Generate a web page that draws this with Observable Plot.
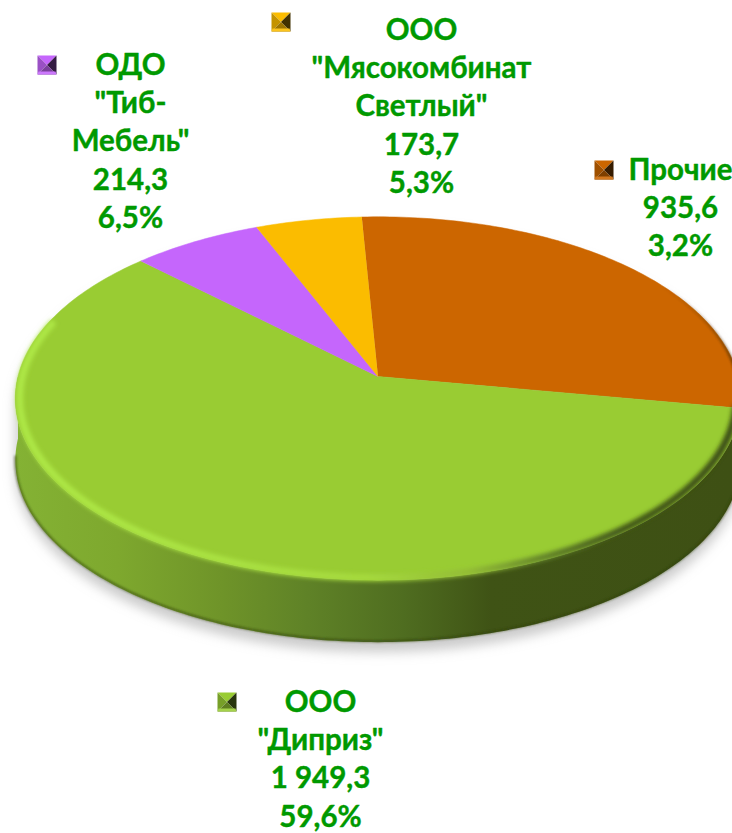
<!DOCTYPE html>
<html>
<head>
<meta charset="utf-8">
<script src="https://cdn.jsdelivr.net/npm/d3@7"></script>
<script src="https://cdn.jsdelivr.net/npm/@observablehq/plot@0.6"></script>
<style>html,body{margin:0;padding:0;background:#fff}svg{display:block}</style>
</head>
<body>
<div id="chart"></div>
<script>
// Data, clockwise from the top of the pie
const names = ["Прочие", "ООО\n\"Диприз\"", "ОДО\n\"Тиб-\nМебель\"", "ООО\n\"Мясокомбинат\nСветлый\""];
const values = [935.6, 1949.3, 214.3, 173.7];
const valueLabels = ["935,6", "1 949,3", "214,3", "173,7"];
const percentLabels = ["3,2%", "59,6%", "6,5%", "5,3%"];

// Styles and layout
const sliceColors = ["#cc6600", "#99cc33", "#c566fc", "#fbbc00"];
const labelX = [680, 320, 130, 421];
const labelY = [152, 684, 47, 12];
const keyX = [594, 217, 37, 271];
const keyY = [160, 692, 55, 12];
const keySize = 19;

const rad = Math.PI / 180;
const cx = 377.5, cy = 376, rx = 360, ry = 179, tilt = 0.121, depth = 62;
const startDeg = -2.9;

const project = (deg, dy = 0, s = 1) => {
  const t = deg * rad, w = 1 + tilt * Math.cos(t);
  return {x: cx + s * rx * Math.sin(t) / w, y: cy - s * ry * Math.cos(t) / w + dy};
};
const arc = (a, b, dy = 0, s = 1) => {
  const n = Math.max(2, Math.ceil(Math.abs(b - a)));
  return d3.range(n + 1).map(i => project(a + (b - a) * i / n, dy, s));
};

const arcs = d3.pie().sort(null).startAngle(startDeg * rad).endAngle((360 + startDeg) * rad)(values);
const deg = arcs.map(d => [d.startAngle / rad, d.endAngle / rad]);

const slices = arcs.flatMap((d, i) =>
  [{x: cx, y: cy}, ...arc(deg[i][0], deg[i][1])].map(p => ({...p, i})));

const green = deg[1];
const wallPts = [...arc(Math.max(green[0], 90), Math.min(green[1], 270), depth),
                 ...arc(Math.min(green[1], 270), Math.max(green[0], 90))];
const wallEdge = arc(Math.max(green[0], 96), Math.min(green[1], 264), depth);
const rimPts = arc(green[0], 288, 0, 0.988);
const orangeRim = arc(45, deg[0][1], 0, 0.998);

const silhouette = [...arc(96, 264, depth), ...arc(264, 456)];

const facets = keyX.flatMap((kx, i) => {
  const c = sliceColors[i], s = keySize, ky = keyY[i];
  const shade = t => d3.interpolateRgb(c, "#000")(t);
  const mx = kx + s / 2, my = ky + s / 2;
  const polys = [
    [c, [[kx, ky], [kx + s, ky], [mx, my]]],
    [shade(0.22), [[kx, ky], [mx, my], [kx, ky + s]]],
    [shade(0.74), [[kx + s, ky], [kx + s, ky + s], [mx, my]]],
    [shade(0.38), [[kx, ky + s], [mx, my], [kx + s, ky + s]]],
    [d3.interpolateRgb(c, "#fff")(0.12), [[kx + 1, ky + s - 3], [kx + s - 1, ky + s - 3], [kx + s, ky + s], [kx, ky + s]]]
  ];
  return polys.flatMap((p, j) => p[1].map(q => ({x: q[0], y: q[1], z: i + "-" + j, color: p[0]})));
});

const labels = names.map((n, i) => ({
  x: labelX[i], y: labelY[i],
  text: n + "\n" + valueLabels[i] + "\n" + percentLabels[i]
}));

const blur = id => ({render(index, scales, vals, dims, ctx, next) {
  const g = next(index, scales, vals, dims, ctx);
  g.setAttribute("filter", `url(#${id})`);
  return g;
}});

const defs = () => {
  const d = d3.create("svg:defs");
  const grad = (id, stops, x1 = 0, x2 = 732, y1 = 0, y2 = 0) => {
    const g = d.append("linearGradient").attr("id", id).attr("gradientUnits", "userSpaceOnUse")
      .attr("x1", x1).attr("x2", x2).attr("y1", y1).attr("y2", y2);
    stops.forEach(([o, c, a = 1]) => g.append("stop").attr("offset", o).attr("stop-color", c).attr("stop-opacity", a));
  };
  grad("wallGrad", [[0.02, "#84b234"], [0.16, "#7ea82e"], [0.3, "#6f9429"], [0.42, "#5f8227"], [0.55, "#4f6d20"], [0.67, "#3f5315"], [1, "#3e5014"]]);
  grad("rimGrad", [[0.02, "#aee846"], [0.3, "#aae243", 1], [0.5, "#a6da3e"], [0.64, "#93bc36"], [0.74, "#64852a"], [0.84, "#43581a"], [1, "#3b4d12"]]);
  grad("orangeGrad", [[0, "#5a3208", 0], [1, "#5a3208", 1]], 0, 0, 285, 400);
  [["blurShadow", 6], ["blurRim", 2.2], ["blurEdge", 0.8]].forEach(([id, s]) =>
    d.append("filter").attr("id", id).attr("x", "-10%").attr("y", "-10%").attr("width", "120%").attr("height", "120%")
      .append("feGaussianBlur").attr("stdDeviation", s));
  return d.node();
};

const plot = Plot.plot({
  width: 732, height: 833,
  margin: 0,
  x: {domain: [0, 732], range: [0, 732], axis: null},
  y: {domain: [0, 833], range: [0, 833], axis: null},
  marks: [
    defs,
    Plot.line(silhouette, {x: "x", y: d => d.y + 10, fill: "#a8a8a8", fillOpacity: 0.6, stroke: "none", ...blur("blurShadow")}),
    Plot.line(wallPts, {x: "x", y: "y", fill: "url(#wallGrad)", stroke: "none"}),
    Plot.line(wallEdge, {x: "x", y: d => d.y - 1, stroke: "#2f3f0c", strokeOpacity: 0.55, strokeWidth: 2.5, ...blur("blurEdge")}),
    Plot.line(slices, {x: "x", y: "y", z: "i", fill: d => sliceColors[d.i], stroke: d => sliceColors[d.i], strokeWidth: 0.5}),
    Plot.line(rimPts, {x: "x", y: "y", stroke: "url(#rimGrad)", strokeWidth: 7, ...blur("blurRim")}),
    Plot.line(orangeRim, {x: "x", y: "y", stroke: "url(#orangeGrad)", strokeWidth: 3, ...blur("blurEdge")}),
    Plot.line(facets, {x: "x", y: "y", z: "z", fill: "color", stroke: "none"}),
    Plot.text(labels, {
      x: "x", y: "y", text: "text",
      lineAnchor: "top", textAnchor: "middle", lineHeight: 1.3,
      fontFamily: "Lato", fontWeight: "bold", fontSize: 29.5, fill: "#009900",
      stroke: "#009900", strokeWidth: 0.4
    })
  ]
});
document.getElementById("chart").append(plot);
</script>
</body>
</html>
